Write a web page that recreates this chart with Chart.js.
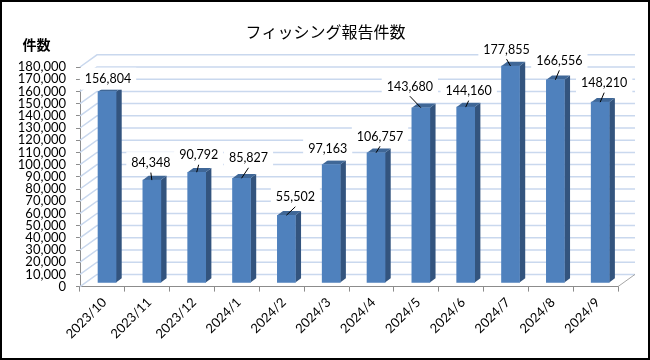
<!DOCTYPE html>
<html>
<head>
<meta charset="utf-8">
<style>
  html, body { margin: 0; padding: 0; background: #fff; }
  #wrap { position: relative; width: 650px; height: 360px; }
</style>
<script src="https://cdn.jsdelivr.net/npm/chart.js@4"></script>
</head>
<body>
<div id="wrap"><canvas id="chart" width="650" height="360"></canvas></div>
<script>
const months = ['2023/10', '2023/11', '2023/12', '2024/1', '2024/2', '2024/3', '2024/4', '2024/5', '2024/6', '2024/7', '2024/8', '2024/9'];
const reports = [156804, 84348, 90792, 85827, 55502, 97163, 106757, 143680, 144160, 177855, 166556, 148210];
const yMax = 180000;
const yStep = 10000;

// label placement relative to the bar's front-top centre: [dx, dy] of text centre
const labelOffsets = [[1, -13], [-1, -17], [2, -17], [7, -20], [9, -18], [-3.5, -15], [4, -16], [-11, -21], [3, -16], [-4, -16.4], [4, -19], [4, -19]];

const WALL_DX = 17, WALL_DY = -12.2; // 3d depth of the back wall
const BAR_DX = 4.6, BAR_DY = -3.6;   // bars stand mid-floor
const SIDE_DX = 5.7, SIDE_DY = -4.3; // bar side/top faces
const FONT = 'Lato, "Noto Sans CJK JP", sans-serif';

// Plugin: fake 3d walls behind the bars
const wallsPlugin = {
  id: 'walls',
  beforeDatasetsDraw(chart) {
    const { ctx, chartArea: a, scales: { y } } = chart;
    ctx.save();
    ctx.lineWidth = 1.5;
    ctx.strokeStyle = '#c9d8ee';
    for (let v = 0; v <= yMax; v += yStep) {
      const py = y.getPixelForValue(v);
      ctx.beginPath();
      ctx.moveTo(a.left, py);
      ctx.lineTo(a.left + WALL_DX, py + WALL_DY);
      ctx.lineTo(a.right + WALL_DX, py + WALL_DY);
      ctx.stroke();
    }
    ctx.lineWidth = 1;
    ctx.strokeStyle = '#a6a6a6';
    ctx.beginPath();
    ctx.moveTo(a.right, a.bottom);
    ctx.lineTo(a.right + WALL_DX, a.bottom + WALL_DY);
    ctx.stroke();
    ctx.restore();
  },
};

// Plugin: side and top faces of each bar, shifted onto the floor
const barDepthPlugin = {
  id: 'barDepth',
  beforeDatasetsDraw(chart) {
    const { ctx } = chart;
    const meta = chart.getDatasetMeta(0);
    ctx.save();
    ctx.translate(BAR_DX, BAR_DY);
    meta.data.forEach((bar) => {
      const r = bar.x + bar.width / 2, l = bar.x - bar.width / 2;
      ctx.fillStyle = '#33547e';
      ctx.beginPath();
      ctx.moveTo(r, bar.y);
      ctx.lineTo(r + SIDE_DX, bar.y + SIDE_DY);
      ctx.lineTo(r + SIDE_DX, bar.base + SIDE_DY);
      ctx.lineTo(r, bar.base);
      ctx.fill();
      ctx.fillStyle = '#3f6797';
      ctx.beginPath();
      ctx.moveTo(l, bar.y);
      ctx.lineTo(l + SIDE_DX, bar.y + SIDE_DY);
      ctx.lineTo(r + SIDE_DX, bar.y + SIDE_DY);
      ctx.lineTo(r, bar.y);
      ctx.fill();
    });
    ctx.restore();
    ctx.save();
    ctx.translate(BAR_DX, BAR_DY);
    chart._barShift = true;
  },
  afterDatasetsDraw(chart) {
    if (chart._barShift) chart.ctx.restore();
    chart._barShift = false;
  },
};

// Plugin: value labels with white boxes and leader lines
const valueLabelPlugin = {
  id: 'valueLabels',
  afterDatasetsDraw(chart) {
    const { ctx } = chart;
    const meta = chart.getDatasetMeta(0);
    ctx.save();
    ctx.font = '12.5px ' + FONT;
    ctx.textAlign = 'center';
    ctx.textBaseline = 'middle';
    meta.data.forEach((bar, i) => {
      const text = reports[i].toLocaleString('en-US');
      const px = bar.x + BAR_DX, py = bar.y + BAR_DY;
      const tx = px + labelOffsets[i][0], ty = py + labelOffsets[i][1];
      const w = ctx.measureText(text).width;
      ctx.fillStyle = '#fff';
      ctx.fillRect(tx - w / 2 - 5, ty - 11, w + 10, 22);
      // short gaps get no leader line
      if (labelOffsets[i][1] < -15.5) {
        ctx.strokeStyle = '#000';
        ctx.lineWidth = 1;
        ctx.beginPath();
        ctx.moveTo(tx, ty + 9.5);
        ctx.lineTo(px, py);
        ctx.stroke();
      }
      ctx.fillStyle = '#000';
      ctx.fillText(text, tx, ty);
    });
    ctx.restore();
  },
};

// Plugin: outer frame and the two titles
const framePlugin = {
  id: 'frame',
  afterDraw(chart) {
    const { ctx, width, height } = chart;
    ctx.save();
    ctx.strokeStyle = '#000';
    ctx.lineWidth = 2;
    ctx.strokeRect(1, 1, width - 2, height - 2);
    ctx.fillStyle = '#000';
    ctx.textBaseline = 'middle';
    ctx.textAlign = 'center';
    ctx.font = '16px "Noto Sans CJK JP", sans-serif';
    ctx.fillText('フィッシング報告件数', 325.5, 32);
    ctx.font = 'bold 14px "Noto Sans CJK JP", sans-serif';
    ctx.fillText('件数', 36.5, 45);
    ctx.restore();
  },
};

new Chart(document.getElementById('chart'), {
  type: 'bar',
  data: {
    labels: months,
    datasets: [{
      data: reports,
      backgroundColor: '#4f81bd',
      borderWidth: 0,
      barThickness: 18,
      clip: false,
    }],
  },
  plugins: [wallsPlugin, barDepthPlugin, valueLabelPlugin, framePlugin],
  options: {
    responsive: false,
    animation: false,
    layout: { padding: { left: 0, right: 32, top: 67, bottom: 0 } },
    plugins: { legend: { display: false }, tooltip: { enabled: false } },
    scales: {
      x: {
        offset: true,
        afterFit: (scale) => { scale.height = 73.4; },
        border: { color: '#8c8c8c', width: 1 },
        grid: { drawOnChartArea: false, color: '#8c8c8c', tickLength: 5, offset: true },
        ticks: { color: '#000', font: { size: 13, family: FONT }, maxRotation: 45, minRotation: 45, padding: 3, labelOffset: 2 },
      },
      y: {
        min: 0,
        max: yMax,
        afterFit: (scale) => { scale.width = 80; },
        border: { color: '#8c8c8c', width: 1 },
        grid: { drawOnChartArea: false, color: '#8c8c8c', tickLength: 4 },
        ticks: {
          stepSize: yStep,
          color: '#000',
          autoSkip: false,
          font: { size: 13, family: FONT },
          padding: 10,
          callback: (v) => v.toLocaleString('en-US'),
        },
      },
    },
  },
});
</script>
</body>
</html>
